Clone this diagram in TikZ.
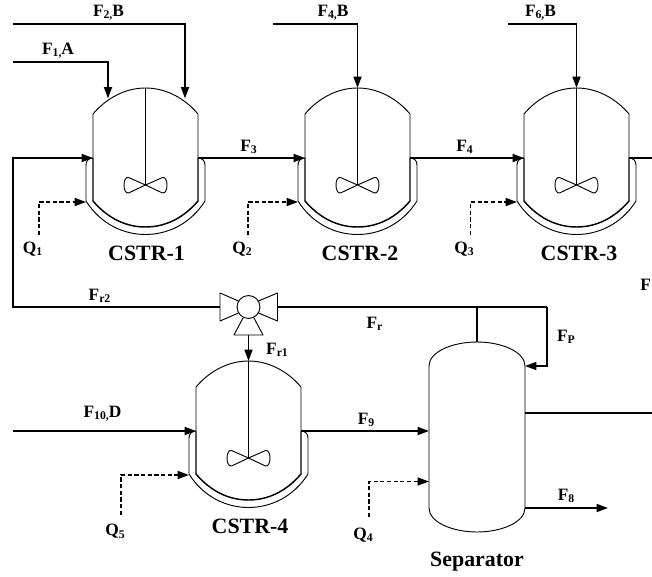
\documentclass[tikz,border=0pt]{standalone}
\usepackage{fontspec}
\setmainfont{Liberation Serif}
\usetikzlibrary{arrows.meta}
\newcommand{\sbs}[1]{\raisebox{-0.28ex}{\fontsize{8.8pt}{8.8pt}\selectfont #1}}
\tikzset{
  vessel/.style={line width=0.7pt,line join=round},
  thickwall/.style={line width=1.1pt,line join=round},
  flow/.style={line width=1.35pt,line join=miter},
  heat/.style={line width=1.25pt,dash pattern=on 3.2pt off 1.8pt},
  tip/.style={-{Triangle[length=8.6pt,width=6pt]}},
  lab/.style={font=\fontsize{13pt}{14pt}\selectfont\bfseries,inner sep=0pt},
  title/.style={font=\fontsize{16.4pt}{18pt}\selectfont\bfseries,inner sep=0pt}
}
\newcommand{\reactor}[3]{%
  \begin{scope}[shift={(#2,#3)}]
    \coordinate (#1-top) at (0,88);
    \coordinate (#1-hub) at (0,185);
    \coordinate (#1-in) at (-52.5,158);
    \coordinate (#1-out) at (52.5,158);
    \coordinate (#1-jac) at (-59.5,202);
    \coordinate (#1-fa) at (-37.5,98.5);
    \coordinate (#1-fb) at (39.5,98.5);
    \draw[vessel] (-52.5,158) -- (-52.5,114) .. controls (-39,98) and (-20,88) .. (0,88)
      .. controls (20,88) and (39,98) .. (52.5,114) -- (52.5,158);
    \draw[thickwall] (-52.5,158) -- (-52.5,201) .. controls (-38,218) and (-20,227) .. (0,227)
      .. controls (20,227) and (38,218) .. (52.5,201) -- (52.5,158);
    \draw[vessel] (-52.5,158) .. controls (-57,158) and (-59.5,161) .. (-59.5,165) -- (-59.5,201)
      .. controls (-45,224) and (-22,234.5) .. (0,234.5)
      .. controls (22,234.5) and (45,224) .. (59.5,201) -- (59.5,165)
      .. controls (59.5,161) and (57,158) .. (52.5,158);
    \draw[vessel] (#1-top) -- (#1-hub);
    \draw[vessel] (#1-hub) -- (-17,177.5) .. controls (-23,176) and (-23,194) .. (-17,193) -- (#1-hub)
      -- (17,177.5) .. controls (23,176) and (23,194) .. (17,193) -- cycle;
  \end{scope}}
\begin{document}
\begin{tikzpicture}[x=0.75pt,y=-0.75pt]
\useasboundingbox (0,0) rectangle (652,577);
\reactor{ra}{145.5}{0}
\reactor{rb}{357.5}{0}
\reactor{rc}{576.5}{0}
\reactor{rd}{248.5}{273}
% separator
\coordinate (s-top) at (477,342);
\coordinate (s-p) at (525,366);
\coordinate (s-f9) at (429,431);
\coordinate (s-q) at (429,481.5);
\coordinate (s-side) at (525,413);
\coordinate (s-f8) at (525,508);
\draw[vessel] (429,366) .. controls (429,352) and (452,342) .. (477,342)
  .. controls (502,342) and (525,352) .. (525,366) -- (525,508)
  .. controls (525,522) and (502,532) .. (477,532)
  .. controls (452,532) and (429,522) .. (429,508) -- cycle;
% valve
\coordinate (v-c) at (248.5,307);
\coordinate (v-l) at (220,307);
\coordinate (v-r) at (277.5,307);
\coordinate (v-b) at (248.5,335);
\draw[vessel] (238.5,301) -- (220,293) -- (220,321) -- (238.5,313);
\draw[vessel] (258.5,301) -- (277.5,293) -- (277.5,321) -- (258.5,313);
\draw[vessel] (243,318) -- (234,335) -- (263,335) -- (254,318);
\node[draw,circle,line width=0.7pt,minimum size=17.2pt,inner sep=0pt] (v) at (v-c) {};
% free ends
\coordinate (e2) at (13,24); \coordinate (k2) at (185,24);
\coordinate (e1) at (13,62); \coordinate (k1) at (108,62);
\coordinate (e4) at (273,24);
\coordinate (e6) at (508,24);
\coordinate (rc1) at (13,158); \coordinate (rc2) at (13,307);
\coordinate (oc) at (652,158);
\coordinate (e10) at (13,431);
\coordinate (j) at (477,307); \coordinate (pk) at (547,307); \coordinate (pk2) at (547,366);
\coordinate (sout) at (652,413);
\coordinate (f8end) at (608,508);
% flows
\draw[flow,tip] (e2) -- (k2) -- (ra-fb);
\draw[flow,tip] (e1) -- (k1) -- (ra-fa);
\draw[flow,tip] (e4) -- (e4 -| rb-top) -- (rb-top);
\draw[flow,tip] (e6) -- (e6 -| rc-top) -- (rc-top);
\draw[flow,tip] (v-l) -- (rc2) -- (rc1) -- (ra-in);
\draw[flow,tip] (ra-out) -- (rb-in);
\draw[flow,tip] (rb-out) -- (rc-in);
\draw[flow] (rc-out) -- (oc);
\draw[flow,tip] (v-b) -- (rd-top);
\draw[flow,tip] (e10) -- (rd-in);
\draw[flow,tip] (rd-out) -- (s-f9);
\draw[flow] (v-r) -- (pk);
\draw[flow,tip] (pk) -- (pk2) -- (s-p);
\draw[flow] (j) -- (s-top);
\draw[flow] (s-side) -- (sout);
\draw[flow,tip] (s-f8) -- (f8end);
% heat
\coordinate (q1) at (39,235); \coordinate (q2) at (248,235); \coordinate (q3) at (470.5,235);
\coordinate (q5) at (121,515); \coordinate (q4) at (369,517);
\draw[heat,tip] (q1) -- (q1 |- ra-jac) -- (ra-jac);
\draw[heat,tip] (q2) -- (q2 |- rb-jac) -- (rb-jac);
\draw[heat,tip] (q3) -- (q3 |- rc-jac) -- (rc-jac);
\draw[heat,tip] (q5) -- (q5 |- rd-jac) -- (rd-jac);
\draw[heat,tip] (q4) -- (q4 |- s-q) -- (s-q);
% labels
\node[lab] (l1) at (108.5,12.5) {F\sbs{2,}B};
\node[lab] (l2) at (58,51) {F\sbs{1,}A};
\node[lab] (l3) at (333,12.5) {F\sbs{4,}B};
\node[lab] (l4) at (540.5,12.5) {F\sbs{6,}B};
\node[lab] (l5) at (248.5,147) {F\sbs{3}};
\node[lab] (l6) at (464.5,147) {F\sbs{4}};
\node[lab] (l7) at (32.5,249) {Q\sbs{1}};
\node[lab] (l8) at (242,249) {Q\sbs{2}};
\node[lab] (l9) at (464,249) {Q\sbs{3}};
\node[lab,anchor=west] (l10) at (640,285) {F};
\node[lab] (l11) at (99.5,296) {F\sbs{r2}};
\node[lab] (l12) at (374.5,324) {F\sbs{r}};
\node[lab] (l13) at (277,350) {F\sbs{r1}};
\node[lab] (l14) at (566,337) {F\sbs{P}};
\node[lab] (l15) at (102.5,414) {F\sbs{10,}D};
\node[lab] (l16) at (366,419.5) {F\sbs{9}};
\node[lab] (l17) at (115,531.5) {Q\sbs{5}};
\node[lab] (l18) at (363,535) {Q\sbs{4}};
\node[lab] (l19) at (566,496) {F\sbs{8}};
\node[title] (t1) at (146.5,253) {CSTR-1};
\node[title] (t2) at (360,253) {CSTR-2};
\node[title] (t3) at (579,253) {CSTR-3};
\node[title] (t4) at (250,526) {CSTR-4};
\node[title] (t5) at (477,561.5) {Separator};
\end{tikzpicture}
\end{document}
